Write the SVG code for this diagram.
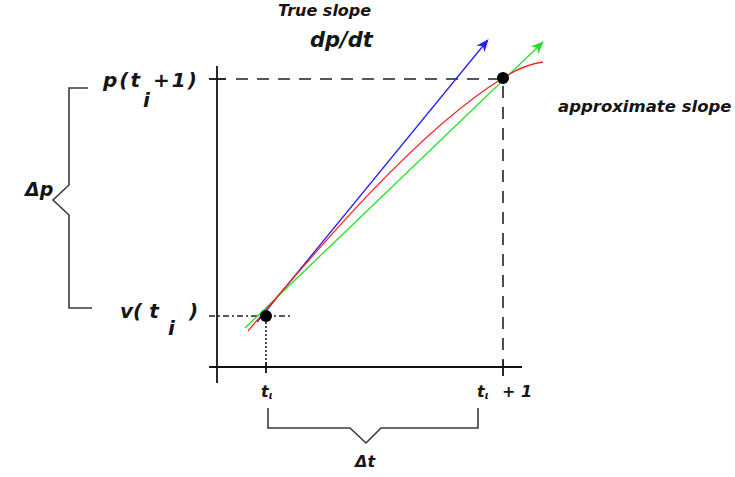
<svg xmlns="http://www.w3.org/2000/svg" width="735" height="477" viewBox="0 0 735 477">
<style>
.t{font-family:"DejaVu Sans","Liberation Sans",sans-serif;font-style:italic;font-weight:bold;fill:#151515}
.ax{stroke:#111;stroke-width:1.8;fill:none}
.br{stroke:#3a3a3a;stroke-width:1.6;fill:none}
.dash{stroke:#222;stroke-width:1.6;fill:none;stroke-dasharray:12,9}
</style>
<defs>
<marker id="ab" viewBox="0 0 10 10" refX="8" refY="5" markerWidth="10" markerHeight="10" orient="auto" markerUnits="strokeWidth"><path d="M0,1 L10,5 L0,9 L3,5 Z" fill="#2020ff"/></marker>
<marker id="ag" viewBox="0 0 10 10" refX="8" refY="5" markerWidth="10" markerHeight="10" orient="auto" markerUnits="strokeWidth"><path d="M0,1 L10,5 L0,9 L3,5 Z" fill="#20e020"/></marker>
</defs>
<g id="axes">
<line class="ax" x1="217" y1="66" x2="217" y2="383"/>
<line class="ax" x1="209" y1="367" x2="522" y2="367"/>
<line class="ax" x1="209" y1="79" x2="226" y2="79"/>
<line class="ax" x1="266" y1="362" x2="266" y2="373"/>
<line class="ax" x1="503" y1="360" x2="503" y2="376"/>
</g>
<g id="connectors">
<line class="dash" x1="236" y1="79" x2="500" y2="79"/>
<line class="dash" x1="503" y1="86" x2="503" y2="360" stroke-dasharray="10,8"/>
<line x1="209" y1="316" x2="292" y2="316" stroke="#222" stroke-width="1.6" stroke-dasharray="6,3,2,3"/>
<line x1="266" y1="322" x2="266" y2="362" stroke="#222" stroke-width="1.6" stroke-dasharray="2,2"/>
<line x1="257" y1="322" x2="487" y2="41" stroke="#2020ff" stroke-width="1.3" marker-end="url(#ab)"/>
<line x1="245" y1="328" x2="542" y2="43" stroke="#20e020" stroke-width="1.3" marker-end="url(#ag)"/>
<path d="M248,331 C310,258 415,132 503,78 C515,70 530,64 543,62" stroke="#ff2020" stroke-width="1.3" fill="none"/>
</g>
<g id="point-start"><circle cx="266" cy="316" r="6" fill="#000"/></g>
<g id="point-end"><circle cx="503" cy="78" r="6" fill="#000"/></g>
<g id="brace-dp"><path class="br" d="M88,88 H69 V185 L53,200 L69,215 V308 H92"/></g>
<g id="brace-dt"><path class="br" d="M268,408 V428 H350 L366,443 L381,428 H478 V408"/></g>
<g id="labels">
<text class="t" x="278" y="16" font-size="16">True slope</text>
<text class="t" x="310" y="47" font-size="21">dp/dt</text>
<text class="t" x="558" y="112" font-size="16.5">approximate slope</text>
<text class="t" x="103" y="87" font-size="20" letter-spacing="2">p(t</text>
<text class="t" x="153" y="87" font-size="20" letter-spacing="2">+1)</text>
<text class="t" x="143" y="107" font-size="20">i</text>
<text class="t" x="120" y="318" font-size="20">v( t</text>
<text class="t" x="189" y="318" font-size="20">)</text>
<text class="t" x="168" y="335" font-size="20">i</text>
<text class="t" x="25" y="196" font-size="19">Δp</text>
<text class="t" x="261" y="397" font-size="16">t<tspan font-size="10" dy="2">ι</tspan></text>
<text class="t" x="477" y="397" font-size="16">t<tspan font-size="10" dy="2">ι</tspan></text>
<text class="t" x="502" y="397" font-size="16">+</text>
<text class="t" x="521" y="397" font-size="16">1</text>
<text class="t" x="355" y="467" font-size="16">Δt</text>
</g>
</svg>
